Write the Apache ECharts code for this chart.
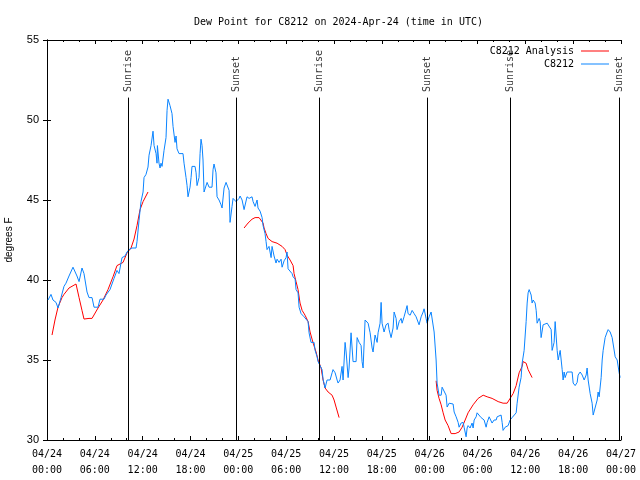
<!DOCTYPE html>
<html><head><meta charset="utf-8">
<script src="https://cdn.jsdelivr.net/npm/echarts@6/dist/echarts.min.js"></script>
<style>html,body{margin:0;padding:0;background:#fff}#c{width:640px;height:480px}</style>
</head><body><div id="c"></div>
<script>
// hours since 2024-04-24 00:00 UTC, dew point (F)
const xTickLabels = ['04/24\n00:00','04/24\n06:00','04/24\n12:00','04/24\n18:00','04/25\n00:00','04/25\n06:00','04/25\n12:00','04/25\n18:00','04/26\n00:00','04/26\n06:00','04/26\n12:00','04/26\n18:00','04/27\n00:00'];
const sunHours = [10.2, 23.7, 34.15, 47.75, 58.1, 71.8];
const sunNames = ['Sunrise','Sunset','Sunrise','Sunset','Sunrise','Sunset'];

const anaSeg1 = [[0.63,36.56],[1.0,37.5],[1.38,38.3],[1.88,38.9],[2.13,39.1],[2.76,39.5],[3.64,39.75],[4.02,38.9],[4.39,38.1],[4.64,37.56],[5.27,37.6],[5.65,37.6],[6.4,38.25],[7.03,38.75],[7.65,39.4],[8.28,40.2],[8.78,40.9],[9.16,41.0],[9.54,41.1],[10.04,41.7],[10.54,42.0],[10.92,42.56],[11.29,43.4],[11.67,44.4],[12.05,44.9],[12.67,45.5]];
const anaSeg2 = [[24.72,43.25],[25.22,43.56],[25.72,43.8],[26.1,43.9],[26.6,43.9],[26.85,43.85],[27.1,43.56],[27.23,43.25],[27.48,42.9],[27.73,42.6],[28.23,42.4],[28.86,42.3],[29.49,42.1],[29.86,41.9],[30.11,41.56],[30.49,41.25],[30.87,40.9],[30.99,40.4],[31.24,39.9],[31.49,39.4],[31.74,38.56],[32.0,38.1],[32.37,37.8],[32.75,37.4],[33.0,36.75],[33.38,36.06],[33.75,35.5],[34.0,35.0],[34.38,34.5],[34.63,33.75],[34.88,33.25],[35.26,33.0],[35.76,32.8],[36.01,32.5],[36.26,32.06],[36.64,31.4]];
const anaSeg3 = [[48.81,33.7],[48.93,33.1],[49.18,32.6],[49.44,32.2],[49.69,31.7],[49.94,31.25],[50.31,30.9],[50.69,30.4],[51.19,30.4],[51.69,30.5],[52.07,30.8],[52.45,31.25],[52.82,31.7],[53.45,32.2],[54.08,32.6],[54.71,32.8],[55.21,32.7],[55.83,32.6],[56.59,32.4],[57.21,32.3],[57.72,32.3],[58.09,32.6],[58.47,32.9],[58.85,33.4],[59.22,34.2],[59.6,34.6],[59.72,34.9],[60.1,34.8],[60.35,34.4],[60.85,33.9]];

const obs = [[0.13,38.75],[0.5,39.1],[0.75,38.75],[1.13,38.6],[1.38,38.25],[1.76,38.9],[2.13,39.6],[2.38,39.8],[2.76,40.25],[3.26,40.8],[3.51,40.75],[3.76,40.25],[4.02,39.9],[4.27,39.9],[4.39,40.75],[4.64,40.4],[5.02,39.25],[5.27,38.9],[5.65,38.9],[5.9,38.3],[6.4,38.3],[6.65,38.8],[7.15,38.8],[7.4,39.06],[7.9,39.4],[8.41,40.1],[8.78,40.6],[9.03,40.4],[9.28,40.4],[9.41,41.4],[9.79,41.5],[10.04,41.75],[10.29,41.9],[10.66,42.0],[11.17,42.0],[11.29,42.4],[11.54,43.7],[11.79,44.9],[12.05,45.5],[12.17,46.4],[12.42,46.6],[12.67,47.06],[12.8,47.8],[13.05,48.4],[13.3,49.3],[13.43,48.4],[13.68,47.9],[13.8,47.3],[13.85,48.4],[14.05,47.3],[14.18,47.0],[14.3,47.3],[14.43,47.1],[14.68,48.1],[14.93,48.9],[15.06,50.6],[15.18,51.3],[15.43,50.9],[15.68,50.4],[15.81,49.6],[16.06,48.6],[16.19,49.0],[16.31,48.2],[16.56,47.9],[17.06,47.9],[17.19,47.3],[17.44,46.4],[17.57,45.9],[17.69,45.2],[17.94,45.8],[18.07,46.4],[18.19,47.1],[18.57,47.1],[18.7,46.7],[18.82,45.9],[19.07,46.4],[19.2,47.9],[19.32,48.8],[19.45,48.4],[19.57,47.5],[19.7,45.5],[19.95,45.5],[20.08,46.1],[20.33,45.8],[20.58,45.75],[20.7,45.8],[20.83,46.9],[20.95,47.25],[21.2,46.7],[21.33,45.2],[21.58,45.0],[21.83,44.7],[21.96,44.5],[22.21,45.75],[22.46,46.1],[22.71,46.0],[22.84,45.6],[22.96,43.6],[23.21,44.6],[23.34,45.1],[23.59,45.1],[23.71,44.9],[23.84,44.9],[24.09,45.1],
[24.22,45.25],[24.47,45.0],[24.72,44.4],[25.09,45.2],[25.35,45.1],[25.72,45.2],[25.85,44.9],[26.1,44.6],[26.35,45.0],[26.47,44.5],[26.73,44.3],[26.98,43.9],[27.1,43.4],[27.35,42.9],[27.48,42.4],[27.6,41.9],[27.85,42.1],[28.11,41.4],[28.23,42.1],[28.48,41.5],[28.73,41.06],[28.86,41.3],[29.11,41.1],[29.36,41.3],[29.49,40.8],[29.74,41.2],[29.99,41.4],[30.11,41.75],[30.24,40.7],[30.49,40.75],[30.74,40.4],[30.87,40.2],[31.12,40.06],[31.24,39.4],[31.49,39.2],[31.62,38.3],[31.87,37.9],[32.0,37.8],[32.25,37.7],[32.5,37.6],[32.75,37.4],[32.87,36.7],[33.12,36.1],[33.5,36.1],[33.63,35.6],[33.88,35.2],[34.0,34.9],[34.25,34.8],[34.5,34.4],[34.63,33.8],[34.88,33.25],[35.13,33.75],[35.51,33.75],[35.76,34.2],[35.88,34.4],[36.14,34.2],[36.39,33.75],[36.51,33.56],[36.76,33.75],[37.01,34.6],[37.14,33.75],[37.39,36.1],[37.52,35.5],[37.77,33.9],[37.89,34.5],[38.14,36.7],[38.39,34.9],[38.77,34.9],[38.9,36.4],[39.15,36.1],[39.4,35.9],[39.52,34.9],[39.65,34.5],[39.9,37.5],[40.15,37.6],[40.28,37.3],[40.53,36.7],[40.78,35.75],[40.9,35.5],[41.15,36.56],[41.41,36.1],[41.53,36.7],[41.78,37.3],[41.91,38.6],[42.03,37.3],[42.28,36.75],[42.53,37.2],[42.79,37.3],[42.91,36.9],[43.16,36.4],[43.41,37.0],[43.54,38.0],[43.79,37.6],[43.91,36.9],[44.17,37.4],[44.42,37.6],[44.54,37.3],[44.79,37.7],[45.04,37.7],[45.17,38.4],[45.29,37.9],[45.55,37.8],[45.8,38.1],[46.05,37.9],[46.3,37.7],[46.55,37.7],[46.67,37.2],[46.93,37.7],[47.18,38.0],[47.3,38.2],[47.55,37.6],[47.68,37.3],[47.93,37.7],[48.18,38.0],[48.43,37.9],[48.56,36.75],[48.81,35.0],[48.93,33.56],[49.18,32.8],[49.44,32.8],[49.56,33.3],[49.81,33.4],[50.06,32.8],[50.19,32.06],[50.44,32.3],[50.69,32.2],[50.94,32.25],[51.07,31.75],[51.32,31.45],[51.57,31.1],[51.69,30.8],[51.94,31.06],[52.2,31.1],[52.32,30.8],[52.57,30.2],[52.7,30.75],[52.82,30.9],[53.07,30.75],[53.32,31.06],[53.45,30.75],[53.58,31.25],[53.83,31.45],[53.95,31.7],[54.2,31.75],[54.45,31.4],[54.58,31.45],[54.83,31.25],[55.08,30.8],[55.21,31.1],[55.46,31.45],[55.71,31.56],[55.83,31.06],[56.08,31.25],[56.34,31.25],[56.46,31.45],[56.71,31.56],[56.96,31.56],[57.09,31.1],[57.21,30.6],[57.47,30.8],[57.72,30.8],[57.84,30.9],[58.09,31.25],[58.34,31.4],[58.59,31.4],[58.85,31.7],[58.97,32.3],[59.22,33.3],[59.47,33.9],[59.6,34.8],[59.85,35.6],[60.1,37.4],[60.23,38.56],[60.35,39.2],[60.48,39.4],[60.73,39.06],[60.85,38.56],[60.98,38.75],[61.23,38.56],[61.36,38.1],[61.48,37.3],[61.73,37.6],[61.86,37.4],[61.98,36.4],[62.23,37.2],[62.48,37.3],[62.74,37.3],[62.99,37.4],[63.24,36.9],[63.36,35.6],[63.61,36.1],[63.74,37.4],[63.99,35.6],[64.12,35.0],[64.37,35.6],[64.62,34.4],[64.74,33.75],[64.87,34.25],[64.99,33.9],[65.24,34.25],[65.5,34.25],[65.87,34.25],[66.0,33.56],[66.25,33.4],[66.5,33.6],[66.62,34.06],[66.88,34.25],[67.13,34.06],[67.38,33.75],[67.63,34.06],[67.75,34.5],[67.88,33.75],[68.13,32.9],[68.38,32.3],[68.51,31.56],[68.76,31.56],[69.01,32.5],[69.13,33.0],[69.26,32.7],[69.51,33.9],[69.64,35.0],[69.76,35.6],[70.01,36.4],[70.26,36.75],[70.39,36.9],[70.64,36.75],[70.89,36.4],[71.02,36.3],[71.27,35.2],[71.52,35.0],[71.64,35.0],[71.77,34.2],[71.89,33.9]];

const analysis = anaSeg1.concat([[12.8, null]], anaSeg2, [[36.8, null]], anaSeg3);

const MONO = 'DejaVu Sans Mono';
const SANS = 'Liberation Sans';
const chart = echarts.init(document.getElementById('c'), null, {renderer: 'canvas'});

const tickCommon = {
  axisLine: {show: true, lineStyle: {color: '#000', width: 1}},
  axisTick: {show: true, inside: true, length: 4, lineStyle: {color: '#000'}},
  splitLine: {show: false}
};
const legendCommon = {
  right: 31, align: 'right', padding: 0, icon: 'rect',
  itemWidth: 28, itemHeight: 1, itemGap: 0, selectedMode: false,
  textStyle: {fontFamily: MONO, fontSize: 10, color: '#000', padding: [0, 2, 0, 0]}
};

chart.setOption({
  animation: false,
  backgroundColor: '#fff',
  title: {
    text: 'Dew Point for C8212 on 2024-Apr-24 (time in UTC)',
    left: 189, top: 12,
    textStyle: {fontFamily: MONO, fontSize: 10, fontWeight: 'normal', color: '#000'}
  },
  grid: {left: 47, right: 19, top: 40, bottom: 40, containLabel: false, outerBoundsMode: 'none'},
  legend: [
    Object.assign({data: ['C8212 Analysis'], top: 46}, legendCommon),
    Object.assign({data: ['C8212'], top: 59}, legendCommon)
  ],
  xAxis: [
    Object.assign({
      type: 'value', min: 0, max: 72, interval: 6, position: 'bottom',
      minorTick: {show: true, splitNumber: 3, length: 2, lineStyle: {color: '#000'}},
      axisLabel: {
        formatter: v => xTickLabels[Math.round(v / 6)],
        fontFamily: MONO, fontSize: 10, color: '#000', lineHeight: 16, margin: 6
      }
    }, tickCommon),
    Object.assign({
      type: 'value', min: 0, max: 72, interval: 6, position: 'top',
      minorTick: {show: true, splitNumber: 3, length: 2, lineStyle: {color: '#000'}},
      axisLabel: {show: false}
    }, tickCommon)
  ],
  yAxis: [
    Object.assign({
      type: 'value', min: 30, max: 55, interval: 5, position: 'left',
      name: 'degrees F', nameLocation: 'middle', nameGap: 33, nameRotate: 90,
      nameTextStyle: {fontFamily: SANS, fontSize: 10, color: '#000'},
      axisLabel: {fontFamily: SANS, fontSize: 11, color: '#000', margin: 8}
    }, tickCommon),
    Object.assign({
      type: 'value', min: 30, max: 55, interval: 5, position: 'right',
      axisLabel: {show: false}
    }, tickCommon)
  ],
  series: [
    {
      name: 'C8212 Analysis', type: 'line', xAxisIndex: 0, yAxisIndex: 0,
      data: analysis, showSymbol: false, symbol: 'none', connectNulls: false,
      lineStyle: {color: '#ff0000', width: 1}, itemStyle: {color: '#ff0000'}, z: 2
    },
    {
      name: 'C8212', type: 'line', xAxisIndex: 0, yAxisIndex: 0,
      data: obs, showSymbol: false, symbol: 'none',
      lineStyle: {color: '#0a84ff', width: 1}, itemStyle: {color: '#0a84ff'}, z: 3
    },
    {
      name: 'sun', type: 'scatter', xAxisIndex: 0, yAxisIndex: 0,
      data: sunHours.map((h, i) => [h, 51.75, sunNames[i]]),
      symbolSize: 1, itemStyle: {color: 'rgba(0,0,0,0)'}, silent: true, z: 4,
      label: {
        show: true, formatter: p => p.data[2], rotate: 90, position: 'inside',
        align: 'left', verticalAlign: 'middle',
        fontFamily: MONO, fontSize: 10, color: '#000'
      },
      markLine: {
        silent: true, symbol: ['none', 'none'], label: {show: false},
        lineStyle: {color: '#000', width: 1, type: 'solid'},
        data: sunHours.map(h => [{coord: [h, 51.4]}, {coord: [h, 30]}])
      }
    }
  ]
});
</script></body></html>
